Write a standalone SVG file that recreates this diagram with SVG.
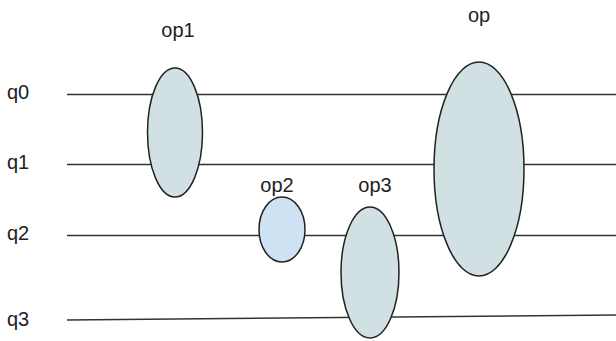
<svg xmlns="http://www.w3.org/2000/svg" width="616" height="341" viewBox="0 0 616 341">
  <style>
    .wire { stroke: #333; stroke-width: 1.5; fill: none; }
    .gate { fill: #d0e0e3; stroke: #222; stroke-width: 1.5; }
    .gate.alt { fill: #cfe2f3; }
    .lbl { font-family: "Liberation Sans", Arial, sans-serif; font-size: 20px; fill: #222; }
    .mid { text-anchor: middle; }
  </style>
  <rect width="616" height="341" fill="#fff"/>

  <!-- qubit wires -->
  <g id="wires">
    <line class="wire" x1="67" y1="94.5" x2="616" y2="94.5"/>
    <line class="wire" x1="67" y1="164.5" x2="616" y2="164.5"/>
    <line class="wire" x1="67" y1="235.5" x2="616" y2="235.5"/>
    <line class="wire" x1="67" y1="320" x2="616" y2="315"/>
  </g>

  <!-- wire labels -->
  <g id="q0"><text class="lbl" x="7" y="99">q0</text></g>
  <g id="q1"><text class="lbl" x="7" y="169">q1</text></g>
  <g id="q2"><text class="lbl" x="7" y="240">q2</text></g>
  <g id="q3"><text class="lbl" x="7" y="326">q3</text></g>

  <!-- operations -->
  <g id="op1">
    <ellipse class="gate" cx="175" cy="132.5" rx="27.5" ry="64.5"/>
    <text class="lbl mid" x="178" y="37">op1</text>
  </g>
  <g id="op2">
    <ellipse class="gate alt" cx="282" cy="229.5" rx="23" ry="32.5"/>
    <text class="lbl mid" x="277" y="192">op2</text>
  </g>
  <g id="op3">
    <ellipse class="gate" cx="370" cy="272.5" rx="29" ry="65.5"/>
    <text class="lbl mid" x="375" y="192">op3</text>
  </g>
  <g id="op">
    <ellipse class="gate" cx="479" cy="169" rx="45" ry="107"/>
    <text class="lbl mid" x="479" y="22">op</text>
  </g>
</svg>
